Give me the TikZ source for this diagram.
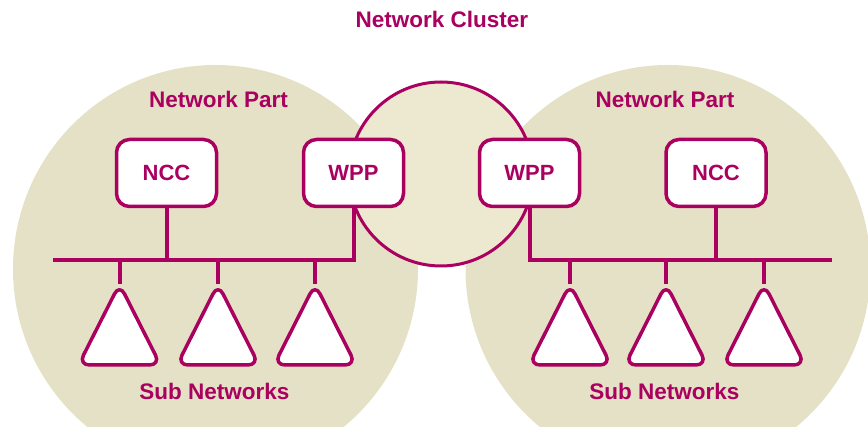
\documentclass[tikz,border=0pt]{standalone}
\usepackage{fontspec}
\setmainfont{Liberation Sans}
\usetikzlibrary{positioning}
\definecolor{plum}{RGB}{170,0,95}
\definecolor{sand}{RGB}{229,225,198}
\definecolor{sandlight}{RGB}{237,232,208}
\tikzset{
  unit/.style={draw=plum, line width=3.5pt, fill=white, rounded corners=13pt,
    minimum width=100pt, minimum height=67pt, text=plum,
    font=\bfseries\fontsize{22}{26}\selectfont},
  txt/.style={text=plum, font=\bfseries\fontsize{22.5}{26}\selectfont, anchor=base},
  wire/.style={draw=plum, line width=4pt},
  subnet/.style={draw=plum, line width=3.5pt, fill=white, rounded corners=11pt, line join=round}
}

\begin{document}
\begin{tikzpicture}[x=1pt,y=-1pt]
        \useasboundingbox (0,0) rectangle (868,427);
        \clip (0,0) rectangle (868,427);
        % Network parts
        \fill[sand] (215.5,269) ellipse [x radius=202.5, y radius=204];
        \fill[sand] (668,269) ellipse [x radius=202.5, y radius=204];
        % Cluster circle
        \draw[plum, line width=3pt, fill=sandlight] (441,174) circle [radius=92];
        % Controllers
        \node[unit] (ncc1) at (166.5,173) {NCC};
        \node[unit] (wpp1) at (353.5,173) {WPP};
        \node[unit] (wpp2) at (529.5,173) {WPP};
        \node[unit] (ncc2) at (716,173) {NCC};
        % Buses
        \coordinate (busL) at (53,260);
        \coordinate (busR) at (832,260);
        \draw[wire] (busL) -- (busL -| wpp1) -- (wpp1.south);
        \draw[wire] (busR) -- (busR -| wpp2) -- (wpp2.south);
        \draw[wire] (ncc1.south) -- (ncc1 |- busL);
        \draw[wire] (ncc2.south) -- (ncc2 |- busR);
        % Sub networks
        \foreach \n/\x in {1/119.5,2/218,3/315,4/570,5/666,6/764}
          \coordinate (s\n) at (\x,284);
        \foreach \n in {1,2,3} \draw[wire] (s\n) -- (s\n |- busL);
        \foreach \n in {4,5,6} \draw[wire] (s\n) -- (s\n |- busR);
        \foreach \n in {1,...,6}
          \draw[subnet] (s\n) ++(0,81) -- ++(41,0) -- (s\n) -- ++(-41,81) -- cycle;
        % Labels
        \node[txt] (cluster) at (442,28) {Network Cluster};
        \node[txt] (partL) at (218.5,108) {Network Part};
        \node[txt] (partR) at (665,108) {Network Part};
        \node[txt] (subL) at (214.5,400) {Sub Networks};
        \node[txt] (subR) at (664.5,400) {Sub Networks};
\end{tikzpicture}
\end{document}
